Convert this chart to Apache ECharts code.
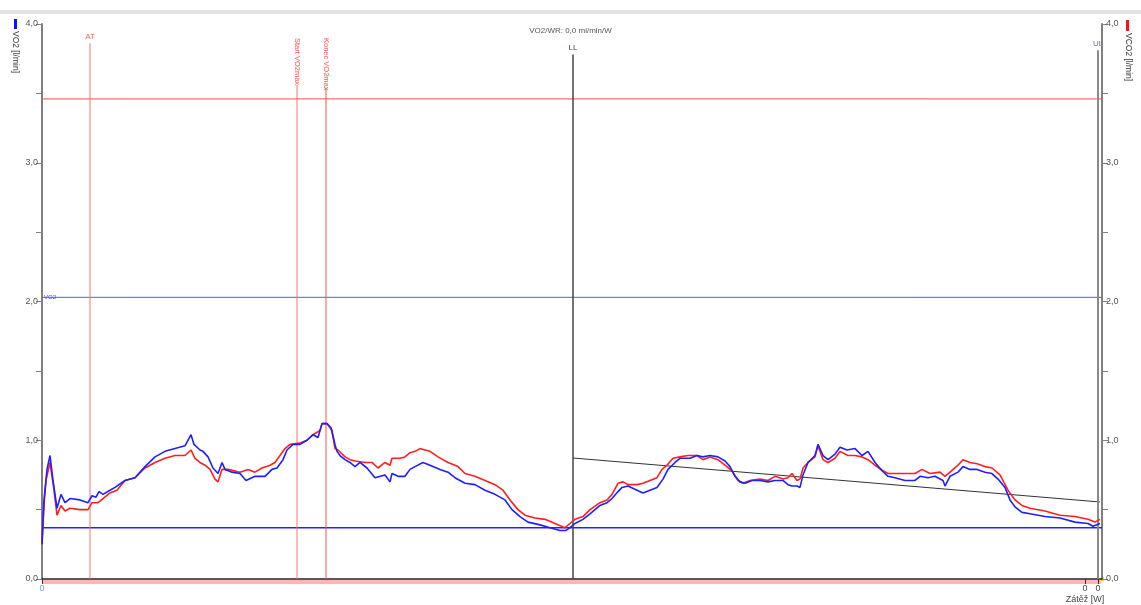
<!DOCTYPE html>
<html><head><meta charset="utf-8">
<script src="https://cdn.jsdelivr.net/npm/echarts@6/dist/echarts.min.js"></script>
<style>html,body{margin:0;padding:0;background:#fff}#c{width:1141px;height:605px}</style>
</head><body><div id="c"></div>
<script>
// ---- data (time index, l/min) ----
const vo2T = [0,2,5,8,11,15,19,23,28,38,46,50,54,57,61,68,73,83,93,103,113,123,133,143,149,152,158,161,166,171,176,180,183,190,198,204,213,223,230,235,241,245,251,258,265,271,276,280,285,289,293,295,298,303,308,313,318,325,333,343,348,350,356,363,368,373,381,388,398,406,413,423,433,443,453,463,470,478,486,498,508,518,524,528,533,541,548,558,565,570,576,580,586,595,601,608,615,621,626,633,638,648,655,661,668,676,683,688,693,698,703,710,718,726,733,741,746,750,755,758,761,766,773,776,781,786,793,798,805,813,820,826,833,840,846,853,863,873,878,886,893,901,903,908,916,921,928,935,943,950,956,963,968,973,980,988,1003,1018,1033,1046,1051,1058];
const vo2V = [0.25,0.57,0.79,0.89,0.71,0.51,0.61,0.55,0.58,0.57,0.55,0.60,0.59,0.63,0.61,0.64,0.66,0.71,0.73,0.81,0.88,0.92,0.94,0.96,1.04,0.97,0.93,0.92,0.88,0.80,0.76,0.84,0.79,0.77,0.76,0.71,0.74,0.74,0.79,0.80,0.86,0.93,0.97,0.97,1.00,1.04,1.02,1.12,1.12,1.09,0.97,0.92,0.89,0.86,0.84,0.81,0.84,0.80,0.73,0.75,0.70,0.76,0.74,0.74,0.79,0.81,0.84,0.82,0.79,0.77,0.73,0.69,0.68,0.64,0.61,0.57,0.50,0.45,0.41,0.39,0.37,0.35,0.35,0.37,0.40,0.43,0.47,0.53,0.55,0.58,0.63,0.66,0.67,0.64,0.62,0.64,0.66,0.72,0.79,0.84,0.87,0.87,0.89,0.88,0.89,0.88,0.85,0.81,0.74,0.70,0.69,0.71,0.71,0.70,0.71,0.71,0.68,0.67,0.67,0.66,0.75,0.84,0.89,0.97,0.89,0.86,0.90,0.95,0.93,0.94,0.89,0.92,0.84,0.78,0.74,0.73,0.71,0.71,0.74,0.73,0.74,0.71,0.67,0.74,0.77,0.81,0.79,0.79,0.77,0.76,0.72,0.66,0.57,0.52,0.48,0.47,0.45,0.44,0.41,0.40,0.38,0.40];
const vco2T = [0,2,4,8,12,15,19,23,28,38,46,50,56,61,68,75,83,93,103,113,123,133,143,149,153,158,163,168,173,176,180,186,198,206,213,220,228,233,238,243,248,258,265,271,278,280,285,290,293,296,303,308,313,323,330,336,343,348,350,358,363,368,373,378,383,388,396,406,416,423,433,443,453,461,468,476,483,493,503,513,523,528,533,541,548,558,565,570,576,581,586,595,601,608,615,620,625,631,638,646,655,661,668,676,683,690,696,701,708,718,726,733,741,746,750,755,758,761,766,773,776,781,786,793,798,806,813,820,826,833,841,846,853,863,873,880,888,898,903,908,916,921,928,935,943,950,958,966,973,980,988,1003,1018,1033,1046,1053,1058];
const vco2V = [0.25,0.53,0.71,0.84,0.64,0.46,0.53,0.49,0.51,0.50,0.50,0.55,0.55,0.58,0.62,0.64,0.71,0.73,0.80,0.84,0.87,0.89,0.89,0.93,0.87,0.84,0.82,0.79,0.72,0.70,0.79,0.79,0.77,0.79,0.77,0.80,0.82,0.84,0.89,0.94,0.97,0.98,1.00,1.04,1.07,1.12,1.12,1.07,0.94,0.93,0.88,0.86,0.85,0.84,0.84,0.80,0.84,0.82,0.87,0.87,0.88,0.91,0.92,0.94,0.93,0.92,0.88,0.84,0.81,0.76,0.74,0.71,0.68,0.64,0.57,0.50,0.46,0.44,0.43,0.40,0.37,0.40,0.43,0.45,0.50,0.55,0.57,0.61,0.69,0.70,0.68,0.68,0.69,0.71,0.73,0.79,0.82,0.87,0.88,0.89,0.89,0.86,0.88,0.86,0.82,0.78,0.71,0.69,0.71,0.72,0.71,0.74,0.72,0.73,0.76,0.71,0.72,0.80,0.84,0.88,0.96,0.86,0.84,0.87,0.92,0.89,0.89,0.88,0.86,0.82,0.78,0.76,0.76,0.76,0.76,0.79,0.76,0.77,0.74,0.77,0.82,0.86,0.84,0.83,0.81,0.80,0.75,0.64,0.57,0.53,0.51,0.49,0.46,0.45,0.43,0.41,0.43];
// markers
const markerNames = ['AT','Start VO2max','Konec VO2max','LL','UL'];
const markerX = [48,255,284,531,1056];
const markerTop = [3.86,3.56,3.54,3.78,3.81];
const markerColors = ['#ff7070','#ff7070','#ff5050','#444444','#8a8a8a'];
const markerWidths = [1,1,1,1.5,2];
// reference levels
const levelValues = [3.46, 2.03, 0.37];
const levelColors = ['#ff4a4a', '#5a5aff', '#2222ff'];
const levelWidths = [1, 1, 1.5];
const xStart = 0, xEnd = 1060;
const trendStart = [531,0.872];
const trendEnd = [1058,0.555];
const xTickValues = [0,1043,1056];
const xTickLabels = ['0','0','0'];
const titleText = 'VO2/WR: 0,0 ml/min/W';

const chart = echarts.init(document.getElementById('c'));
const font = 'Liberation Sans, Arial, sans-serif';
const fmtY = v => (Math.abs(v - Math.round(v)) < 1e-9) ? v.toFixed(1).replace('.', ',') : '';
const yAxisBase = (pos) => ({
  type:'value', position:pos, min:0, max:4, interval:0.5,
  axisLine:{show:true, lineStyle:{color:'#808080', width:2}},
  axisTick:{show:true, length:6, lineStyle:{color:'#808080', width:1}},
  axisLabel:{formatter:fmtY, color:'#555', fontSize:9, fontFamily:font, margin:4},
  splitLine:{show:false}
});
const pairs = (t,v) => t.map((x,i)=>[x,v[i]]);
const seg = (name, data, color, width) => ({
  name, type:'line', data, silent:true, showSymbol:false, symbol:'none', z:2,
  lineStyle:{color, width, type:'solid'}, emphasis:{disabled:true}
});

const series = [
  ...levelValues.map((v,i)=>seg('level'+i, [[xStart,v],[xEnd,v]], levelColors[i], levelWidths[i])),
  seg('trend', [trendStart, trendEnd], '#333333', 1),
  ...markerX.map((x,i)=>seg('m'+i, [[x,0],[x,markerTop[i]]], markerColors[i], markerWidths[i])),
  {name:'VCO2', type:'line', yAxisIndex:1, data:pairs(vco2T,vco2V), showSymbol:false, symbol:'none',
    lineStyle:{color:'#ff1f1f', width:1.6}, z:3},
  {name:'VO2', type:'line', yAxisIndex:0, data:pairs(vo2T,vo2V), showSymbol:false, symbol:'none',
    lineStyle:{color:'#1f1fff', width:1.6}, z:4}
];

chart.setOption({
  animation:false,
  backgroundColor:'#fff',
  title:{text:titleText, left:'center', top:22, textStyle:{fontSize:8, color:'#555', fontWeight:'normal', fontFamily:font}},
  grid:{left:42, right:39, top:24, bottom:26},
  xAxis:{type:'value', min:0, max:1060,
    axisLine:{show:true, onZero:false, lineStyle:{color:'#222', width:1.5}},
    axisTick:{show:true, customValues:xTickValues, length:5, lineStyle:{color:'#333'}},
    axisLabel:{show:true, customValues:xTickValues, formatter:(v)=>xTickLabels[xTickValues.indexOf(v)] ?? '',
      color:(v)=> (Number(v)===0 ? '#6aa0c8' : '#444'), fontSize:9, fontFamily:font, margin:5},
    splitLine:{show:false}},
  yAxis:[yAxisBase('left'), yAxisBase('right')],
  series
});

function px(t,v){ return chart.convertToPixel({gridIndex:0}, [t,v]); }
const g = [];
g.push({type:'rect', shape:{x:0,y:10,width:1141,height:4}, style:{fill:'#e2e2e2'}, silent:true});
const b0 = px(0,0), b1 = px(1058,0);
g.push({type:'rect', shape:{x:b0[0]+1, y:b0[1]+1, width:b1[0]-b0[0], height:4}, style:{fill:'rgba(255,120,120,0.55)'}, z:0, silent:true});
g.push({type:'rect', shape:{x:b1[0]+1, y:b0[1]-2, width:3, height:4}, style:{fill:'#e8d830'}, silent:true});
// axis names
g.push({type:'rect', shape:{x:14,y:19,width:3,height:10}, style:{fill:'#1010ff'}});
g.push({type:'text', x:15, y:31, rotation:-Math.PI/2, style:{text:'VO2 [l/min]', fontSize:8.5, fontFamily:font, fill:'#333', align:'left', verticalAlign:'middle'}});
g.push({type:'rect', shape:{x:1126,y:20,width:3,height:11}, style:{fill:'#ff1010'}});
g.push({type:'text', x:1128, y:33, rotation:-Math.PI/2, style:{text:'VCO2 [l/min]', fontSize:8.5, fontFamily:font, fill:'#333', align:'left', verticalAlign:'middle'}});
// VO2 level label
const lv = px(0, levelValues[1]);
g.push({type:'text', x:lv[0]+2, y:lv[1], style:{text:'VO2', fontSize:6, fontFamily:font, fill:'#3a3aff', align:'left', verticalAlign:'middle'}});
// marker labels
markerNames.forEach((n,i)=>{
  const p = px(markerX[i], markerTop[i]);
  if (i===1 || i===2) {
    g.push({type:'text', x:p[0], y:38, rotation:-Math.PI/2, style:{text:n, fontSize:7.5, fontFamily:font, fill:'#ff5050', align:'left', verticalAlign:'middle'}});
  } else {
    const col = i===0 ? '#ff6060' : (i===3 ? '#5a3a5a' : '#7a6a8a');
    g.push({type:'text', x:p[0], y:p[1]-7, style:{text:n, fontSize:8, fontFamily:font, fill:col, align:'center', verticalAlign:'middle'}});
  }
});
// x axis name
const xn = px(1043,0);
g.push({type:'text', x:xn[0], y:600, style:{text:'Zátěž [W]', fontSize:9, fontFamily:font, fill:'#444', align:'center', verticalAlign:'middle'}});
chart.setOption({graphic:g});
</script></body></html>
